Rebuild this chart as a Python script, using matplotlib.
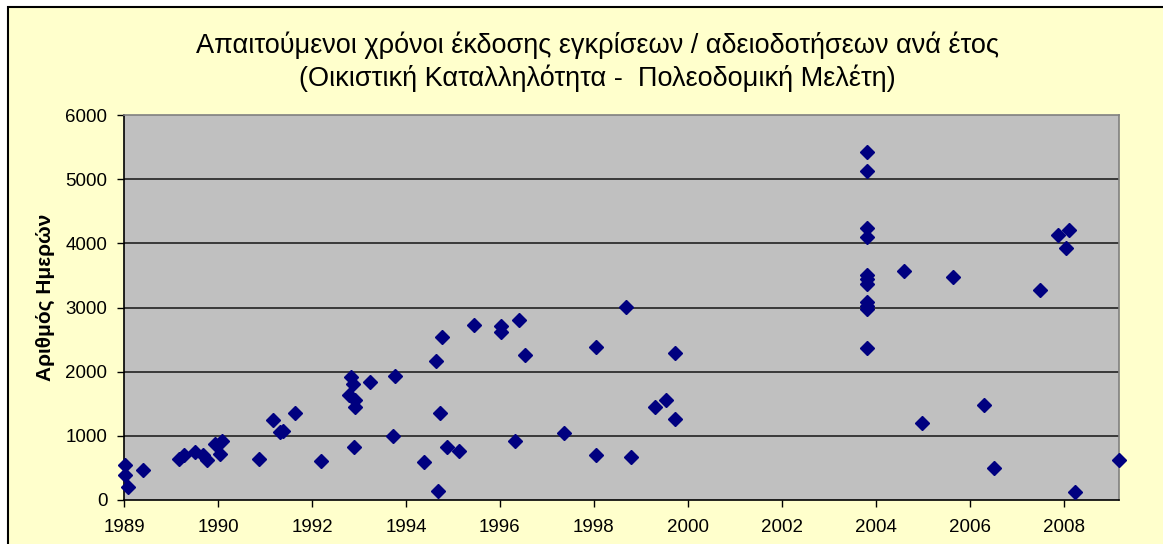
import matplotlib
matplotlib.use("Agg")
import matplotlib.pyplot as plt
from matplotlib.patches import Rectangle
import numpy as np

plt.rcParams['font.family'] = ['Liberation Sans', 'DejaVu Sans']

# ---- data (x: decimal year position, y: number of days) ----
years = [1989.02, 1989.02, 1989.09, 1989.41, 1990.17, 1990.28, 1990.52, 1990.67,
         1990.76, 1990.94, 1991.08, 1991.05, 1991.88, 1992.17, 1992.32, 1992.39,
         1992.64, 1993.18, 1993.82, 1993.86, 1993.79, 1993.91, 1993.91, 1993.89,
         1994.23, 1994.76, 1994.73, 1995.37, 1995.64, 1995.76, 1995.71, 1995.67,
         1995.86, 1996.13, 1996.44, 1997.02, 1997.02, 1997.41, 1997.52, 1997.31,
         1998.35, 1999.03, 1999.03, 1999.68, 1999.78, 2000.30, 2000.53, 2000.72,
         2000.72,
         2004.80, 2004.80, 2004.80, 2004.80, 2004.80, 2004.80, 2004.80, 2004.80,
         2004.80, 2004.80, 2004.80,
         2005.58, 2005.96, 2006.63, 2007.29, 2007.50, 2008.49, 2008.87, 2009.10,
         2009.03, 2009.22, 2010.16]
days = [538, 392, 200, 475, 641, 709, 746, 709,
        626, 875, 927, 720, 641, 1239, 1057, 1083,
        1359, 605, 1914, 1811, 1629, 1566, 1446, 823,
        1836, 1929, 1005, 589, 2163, 2548, 1359, 148,
        823, 760, 2735, 2719, 2615, 2808, 2252, 917,
        1047, 2392, 709, 3005, 667, 1457, 1551, 2294,
        1265,
        5420, 5124, 4236, 4106, 3514, 3447, 3369, 3093,
        3031, 2979, 2372,
        3576, 1203, 3483, 1473, 496, 3276, 4133, 4215,
        3924, 132, 631]

x_tick_labels = ["1989", "1990", "1992", "1994", "1996", "1998",
                 "2000", "2002", "2004", "2006", "2008"]
y_ticks = [0, 1000, 2000, 3000, 4000, 5000, 6000]

title_line1 = "Απαιτούμενοι χρόνοι έκδοσης εγκρίσεων / αδειοδοτήσεων ανά έτος"
title_line2 = "(Οικιστική Καταλληλότητα -  Πολεοδομική Μελέτη)"
y_label = "Αριθμός Ημερών"

# ---- figure ----
W, H = 1163, 544
fig = plt.figure(figsize=(W / 100, H / 100), dpi=100)
fig.patch.set_facecolor("white")
# chart area background with border (left/top visible)
bg = Rectangle((8 / W, -0.1), 1.2, 1 - 7 / H + 0.1,
               transform=fig.transFigure, facecolor="#FFFFCC",
               edgecolor="black", linewidth=1.5, zorder=-10)
fig.patches.append(bg)

ax = fig.add_axes([124 / W, 1 - 500 / H, (1119 - 124) / W, (500 - 115) / H])
ax.set_zorder(5)
ax.set_facecolor("#C0C0C0")

# Excel date axis: ticks every 730 days starting at 1989
tick_pos = [1989 + k * 730 / 365.25 for k in range(len(x_tick_labels))]
ax.set_xlim(1989, 2010.16)
ax.set_ylim(0, 6000)
ax.set_xticks(tick_pos)
ax.set_xticklabels(x_tick_labels)
ax.set_yticks(y_ticks)
ax.set_yticklabels([str(v) for v in y_ticks])

for v in y_ticks[1:-1]:
    ax.axhline(v, color="#222222", linewidth=1.2, zorder=1)

ax.plot(years, days, linestyle="none", marker="D", markersize=7.2,
        color="#000080", markeredgecolor="#000080", zorder=3, clip_on=False)

for s in ["left", "bottom"]:
    ax.spines[s].set_color("black")
    ax.spines[s].set_linewidth(1.2)
for s in ["right", "top"]:
    ax.spines[s].set_color("#808080")
    ax.spines[s].set_linewidth(1.2)

ax.tick_params(axis="both", direction="out", length=5, width=1.0, color="black",
               labelsize=13.5)
ax.tick_params(axis="y", pad=7)
ax.tick_params(axis="x", pad=9)

fig.text(597 / W, 1 - 45 / H, title_line1, ha="center", va="center", fontsize=19.5)
fig.text(597 / W, 1 - 78 / H, title_line2, ha="center", va="center", fontsize=19.5)
fig.text(45 / W, 1 - 297 / H, y_label, rotation=90, ha="center", va="center",
         fontsize=15, fontweight="bold")

fig.savefig("out.png", dpi=100, facecolor=fig.get_facecolor())
